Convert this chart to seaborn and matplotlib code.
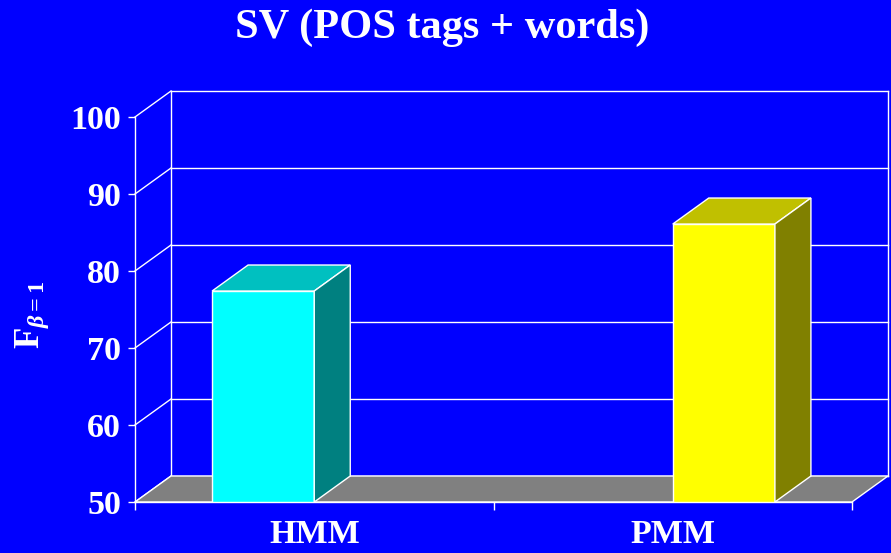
import matplotlib
matplotlib.use("Agg")
import matplotlib.pyplot as plt
from matplotlib.patches import Polygon
import seaborn as sns

# ---- data ----
categories = ["HMM", "PMM"]
scores = [77.4, 86.1]
y_ticks = [50, 60, 70, 80, 90, 100]
title = "SV (POS tags + words)"
ylabel = r"F$_{\beta\mathrm{=1}}$"

# ---- style ----
BG = "#0000FF"
FRONT = ["#00FFFF", "#FFFF00"]
TOP = ["#00C0C0", "#C0C000"]
SIDE = ["#008080", "#808000"]
FLOOR = "#808080"
W = "white"

plt.rcParams["font.family"] = ["Liberation Serif", "DejaVu Serif"]
plt.rcParams["font.weight"] = "bold"
plt.rcParams["mathtext.fontset"] = "custom"
plt.rcParams["mathtext.rm"] = "Liberation Serif:bold"
plt.rcParams["mathtext.it"] = "Liberation Serif:bold:italic"
plt.rcParams["mathtext.bf"] = "Liberation Serif:bold"

FW, FH = 891, 553
fig = plt.figure(figsize=(FW / 100, FH / 100), dpi=100, facecolor=BG)
ax_px = (135, 51, 717, 385)  # left, bottom, width, height in pixels
ax = fig.add_axes([ax_px[0] / FW, ax_px[1] / FH, ax_px[2] / FW, ax_px[3] / FH])
ax.set_facecolor("none")

XL = (-0.5, 1.5)
YL = (50, 100)

sns.barplot(x=categories, y=scores, hue=categories, hue_order=categories,
            dodge=True, width=0.57, palette=FRONT, edgecolor=W, linewidth=1,
            saturation=1, legend=False, ax=ax, zorder=4)
ax.set_xlim(*XL)
ax.set_ylim(*YL)

# depth offset (pixels -> data units)
DX = 36 / (ax_px[2] / (XL[1] - XL[0]))
DY = 26 / (ax_px[3] / (YL[1] - YL[0]))

# back wall gridlines + connectors
for v in y_ticks:
    ax.plot([XL[0] + DX, XL[1] + DX], [v + DY, v + DY], color=W, lw=1,
            zorder=1, clip_on=False)
    ax.plot([XL[0], XL[0] + DX], [v, v + DY], color=W, lw=1, zorder=1,
            clip_on=False)
for xe in (XL[0] + DX, XL[1] + DX):
    ax.plot([xe, xe], [YL[0] + DY, YL[1] + DY], color=W, lw=1, zorder=1,
            clip_on=False)

# floor
floor = Polygon([(XL[0], YL[0]), (XL[1], YL[0]), (XL[1] + DX, YL[0] + DY),
                 (XL[0] + DX, YL[0] + DY)], closed=True, facecolor=FLOOR,
                edgecolor=W, lw=1, zorder=2, clip_on=False)

# bar sides and tops
bars = [p for c in ax.containers for p in c]
for i, p in enumerate(bars):
    x0, w, h = p.get_x(), p.get_width(), p.get_height()
    top = Polygon([(x0, h), (x0 + w, h), (x0 + w + DX, h + DY), (x0 + DX, h + DY)],
                  closed=True, facecolor=TOP[i], edgecolor=W, lw=1, zorder=5,
                  clip_on=False)
    side = Polygon([(x0 + w, YL[0]), (x0 + w + DX, YL[0] + DY),
                    (x0 + w + DX, h + DY), (x0 + w, h)],
                   closed=True, facecolor=SIDE[i], edgecolor=W, lw=1, zorder=5,
                   clip_on=False)
    ax.add_patch(top)
    ax.add_patch(side)
ax.add_patch(floor)

# spines / ticks
for s in ("top", "right"):
    ax.spines[s].set_visible(False)
for s in ("left", "bottom"):
    ax.spines[s].set_color(W)
    ax.spines[s].set_linewidth(1)
    ax.spines[s].set_zorder(6)
ax.set_yticks(y_ticks)
ax.set_yticklabels([str(v) for v in y_ticks])
ax.tick_params(axis="y", colors=W, length=5, width=1, labelsize=24.5, pad=5)
ax.set_xticks([0, 1])
ax.set_xticklabels(categories)
ax.tick_params(axis="x", which="major", colors=W, length=0, labelsize=24.5, pad=12)
ax.set_xticks([-0.5, 0.5, 1.5], minor=True)
ax.tick_params(axis="x", which="minor", colors=W, length=6, width=1)
for lab in ax.get_xticklabels() + ax.get_yticklabels():
    lab.set_fontweight("bold")
ax.set_xlabel("")
ax.set_ylabel("")

fig.text(32 / FW, 1 - 315 / FH, ylabel, rotation=90, ha="center", va="center",
         color=W, fontsize=25, fontweight="bold")
fig.text(442 / FW, 1 - 27.5 / FH, title, ha="center", va="center", color=W,
         fontsize=30.5, fontweight="bold")

fig.savefig("out.png", dpi=100, facecolor=BG)
